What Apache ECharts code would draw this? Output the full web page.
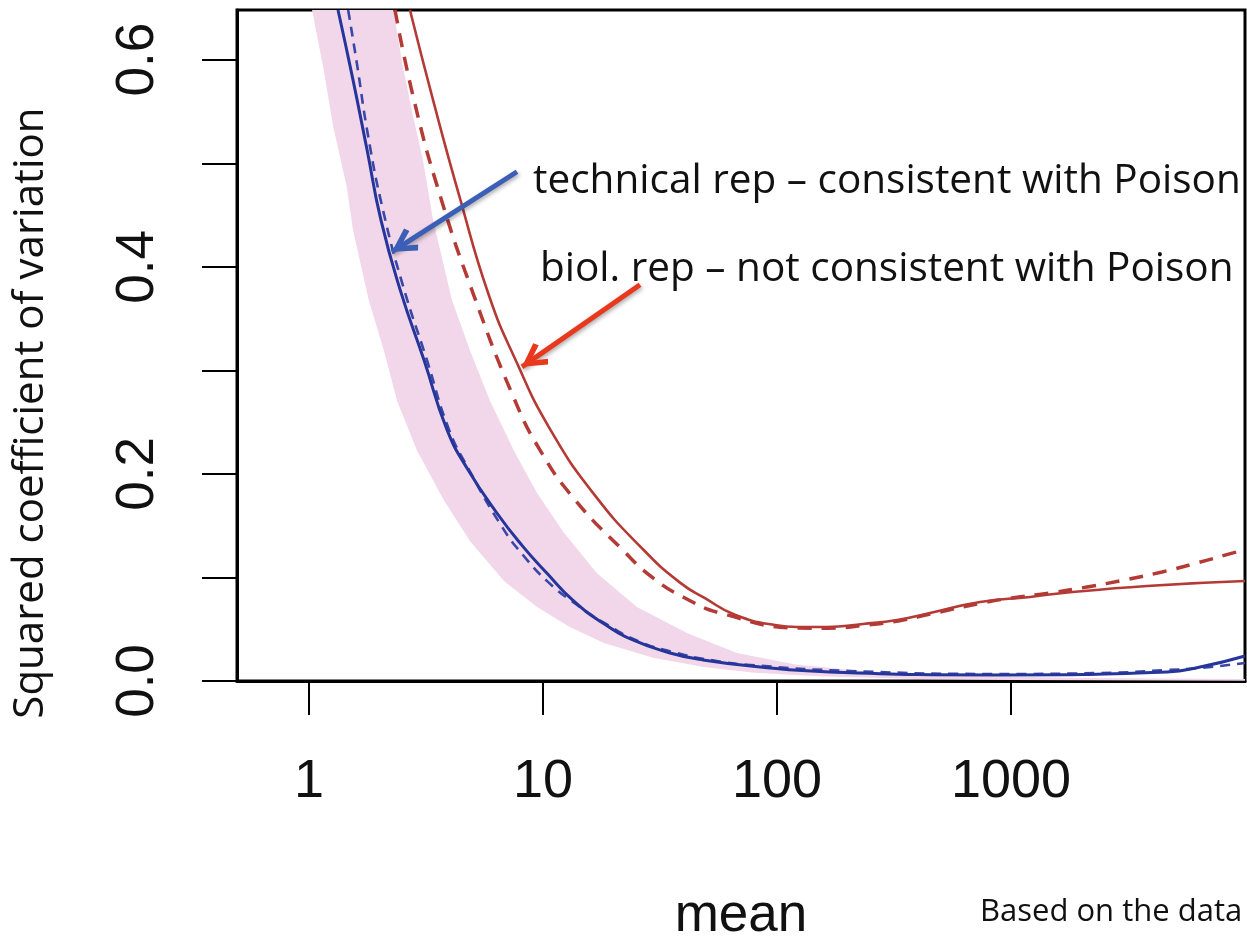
<!DOCTYPE html>
<html>
<head>
<meta charset="utf-8">
<title>Squared coefficient of variation vs mean</title>
<script src="https://cdn.jsdelivr.net/npm/echarts@6/dist/echarts.min.js"></script>
<style>
  html, body { margin: 0; padding: 0; background: #ffffff; }
  #chart { width: 1247px; height: 943px; }
</style>
</head>
<body>
<div id="chart"></div>
<script>
// Axis ticks and labels
const meanTicks = [1, 10, 100, 1000];
const cvTicks = [0, 0.1, 0.2, 0.3, 0.4, 0.5, 0.6];
const cvLabels = [0, 0.2, 0.4, 0.6];

// Technical replicates: fitted CV^2 (solid) and second estimate (dashed), [mean, CV^2]
const techFit = [
  [1.33, 0.648], [1.54, 0.581], [1.77, 0.513], [2.03, 0.445], [2.45, 0.378],
  [3.10, 0.310], [3.89, 0.2425], [4.78, 0.204], [6.36, 0.162], [8.13, 0.131],
  [10.4, 0.104], [13.4, 0.078], [18.0, 0.056], [24.2, 0.0396], [34.9, 0.0271],
  [48.3, 0.0203], [84.6, 0.0135], [168, 0.0087], [897, 0.0058], [4640, 0.0087],
  [6430, 0.0135], [10000, 0.0242]
];
const techDashed = [
  [1.47, 0.648], [1.60, 0.597], [1.79, 0.526], [2.07, 0.455], [2.50, 0.3845],
  [3.19, 0.310], [3.97, 0.2425], [4.83, 0.204], [6.68, 0.1488], [8.21, 0.1217],
  [10.5, 0.0957], [14.0, 0.0734], [18.9, 0.0541], [26.0, 0.0377], [35.9, 0.028],
  [51.7, 0.0203], [76.7, 0.0155], [205, 0.0097], [897, 0.0068], [2399, 0.0077],
  [4640, 0.0106], [6430, 0.0126], [10000, 0.0174]
];

// Biological replicates: fitted CV^2 (solid) and second estimate (dashed)
const biolFit = [
  [2.70, 0.648], [3.39, 0.561], [4.38, 0.469], [5.88, 0.372], [7.67, 0.309],
  [10.7, 0.2435], [16.7, 0.179], [26.8, 0.127], [38.5, 0.095], [49.2, 0.080],
  [66.1, 0.064], [98, 0.054], [122, 0.0522], [164, 0.0522], [233, 0.0551],
  [326, 0.0589], [451, 0.0657], [738, 0.0763], [1206, 0.0812], [1667, 0.085],
  [3810, 0.0918], [10000, 0.0966]
];
const biolDashed = [
  [2.33, 0.648], [2.81, 0.561], [3.63, 0.469], [5.07, 0.372], [7.45, 0.275],
  [9.71, 0.223], [13.7, 0.175], [21.8, 0.127], [29.5, 0.0995], [40.4, 0.0802],
  [57.1, 0.0657], [125, 0.0512], [165, 0.051], [240, 0.054], [330, 0.058],
  [460, 0.065], [740, 0.075], [1010, 0.0802], [1468, 0.085], [2113, 0.0908],
  [3070, 0.0976], [4420, 0.1053], [6240, 0.114], [8890, 0.1237], [10000, 0.1266]
];

// Shot-noise (Poisson) range: lower and upper edges of the shaded band
const poissonLow = [
  [1.03, 0.648], [1.15, 0.593], [1.27, 0.535], [1.45, 0.477], [1.54, 0.436],
  [1.8, 0.368], [2.09, 0.319], [2.38, 0.2705], [2.9, 0.222], [3.78, 0.174],
  [4.88, 0.135], [6.81, 0.0966], [9.43, 0.0715], [13, 0.0522], [18.2, 0.0367],
  [29.8, 0.0222], [48.7, 0.0135], [80, 0.008], [150, 0.0045], [400, 0.002],
  [1000, 0.001], [10000, 0.0003]
];
const poissonHigh = [
  [2.29, 0.648], [2.52, 0.593], [2.78, 0.546], [3.07, 0.503], [3.39, 0.445],
  [4.08, 0.368], [4.88, 0.319], [5.94, 0.2705], [7.52, 0.222], [9.43, 0.1816],
  [12.3, 0.143], [17, 0.104], [25.2, 0.0715], [41.2, 0.0464], [67.5, 0.0271],
  [120, 0.016], [250, 0.009], [600, 0.005], [2000, 0.003], [10000, 0.002]
];

// Annotation arrows: [tail, head] in [mean, CV^2]
const techArrow = [[7.74, 0.4918], [2.26, 0.4145]];
const biolArrow = [[25.97, 0.3826], [8.13, 0.3034]];

const AXIS_FONT = '"Liberation Sans", Arial, Helvetica, sans-serif';
const NOTE_FONT = '"Open Sans", "Noto Sans", sans-serif';
// Open "V" arrow head pointing up; the empty first sub-path pads the box so the
// tip sits at the symbol centre, i.e. exactly on the line end point.
const OPEN_HEAD = 'path://M12,-12 L12.01,-12 L12,-11.99 Z M12,12 L24,33 L19.5,36 L12,22 L4.5,36 L0,33 Z';

const chart = echarts.init(document.getElementById('chart'), null, { renderer: 'canvas' });

function arrowLine(points, color) {
  return {
    silent: true,
    symbol: ['none', OPEN_HEAD],
    symbolSize: [26, 52],
    label: { show: false },
    emphasis: { disabled: true },
    lineStyle: {
      color: color, width: 5, type: 'solid',
      shadowColor: 'rgba(0,0,0,0.35)', shadowBlur: 4, shadowOffsetX: 1, shadowOffsetY: 2
    },
    data: [[{ coord: points[0] }, { coord: points[1] }]]
  };
}

function curve(name, data, z, lineStyle, extra) {
  return Object.assign({
    name: name, type: 'line', data: data, z: z,
    showSymbol: false, smooth: 0.5, silent: true,
    lineStyle: lineStyle
  }, extra || {});
}

const option = {
  animation: false,
  backgroundColor: '#ffffff',
  grid: {
    left: 237, right: 2, top: 10, bottom: 262,
    containLabel: false, outerBoundsMode: 'none',
    show: true, borderColor: '#000', borderWidth: 3, backgroundColor: 'transparent'
  },
  xAxis: {
    type: 'log', logBase: 10, min: 0.4923, max: 10000,
    name: 'mean', nameLocation: 'middle', nameGap: 209,
    nameTextStyle: { fontFamily: AXIS_FONT, fontSize: 53, color: '#111' },
    axisLine: { show: true, lineStyle: { color: '#000', width: 3 } },
    axisTick: { show: true, inside: false, length: 34, customValues: meanTicks,
      lineStyle: { color: '#000', width: 2 } },
    axisLabel: { show: true, customValues: meanTicks, margin: 74,
      fontFamily: AXIS_FONT, fontSize: 54, color: '#111',
      formatter: v => String(Math.round(v)) },
    splitLine: { show: false }, minorTick: { show: false }, minorSplitLine: { show: false }
  },
  yAxis: {
    type: 'value', min: 0, max: 0.648,
    axisLine: { show: true, lineStyle: { color: '#000', width: 3 } },
    axisTick: { show: true, inside: false, length: 35, customValues: cvTicks,
      lineStyle: { color: '#000', width: 2 } },
    axisLabel: { show: true, customValues: cvLabels, rotate: 90, margin: 72,
      fontFamily: AXIS_FONT, fontSize: 53, color: '#111',
      formatter: v => v.toFixed(1) },
    splitLine: { show: false }
  },
  graphic: [
    { type: 'text', x: 31, y: 413, rotation: Math.PI / 2, silent: true,
      style: { text: 'Squared coefficient of variation', fill: '#111',
        font: '42px ' + NOTE_FONT, textAlign: 'center', textVerticalAlign: 'middle' } },
    { type: 'text', x: 533, y: 181, silent: true,
      style: { text: 'technical rep \u2013 consistent with Poison', fill: '#111',
        font: '40.5px ' + NOTE_FONT, textAlign: 'left', textVerticalAlign: 'middle' } },
    { type: 'text', x: 540, y: 269, silent: true,
      style: { text: 'biol. rep \u2013 not consistent with Poison', fill: '#111',
        font: '40.5px ' + NOTE_FONT, textAlign: 'left', textVerticalAlign: 'middle' } },
    { type: 'text', x: 980, y: 912, silent: true,
      style: { text: 'Based on the data', fill: '#111',
        font: '31px ' + NOTE_FONT, textAlign: 'left', textVerticalAlign: 'middle' } }
  ],
  series: [
    {
      name: 'Poisson range', type: 'custom', coordinateSystem: 'cartesian2d',
      silent: true, clip: true, z: 1,
      data: [[1, 0.1]],
      renderItem: function (params, api) {
        const pts = poissonLow.map(p => api.coord(p))
          .concat(poissonHigh.slice().reverse().map(p => api.coord(p)));
        return { type: 'polygon', shape: { points: pts }, style: { fill: '#f1d7e9' } };
      }
    },
    curve('technical rep (dashed)', techDashed, 3,
      { color: '#3a46a8', width: 2.6, type: [10, 7] }),
    curve('technical rep', techFit, 4,
      { color: '#25359a', width: 3 }, { markLine: arrowLine(techArrow, '#3b5fb6') }),
    curve('biol. rep (dashed)', biolDashed, 3,
      { color: '#b43a35', width: 3.5, type: [14, 10] }),
    curve('biol. rep', biolFit, 4,
      { color: '#b43a35', width: 2.6 }, { markLine: arrowLine(biolArrow, '#e8391f') })
  ]
};

chart.setOption(option);
</script>
</body>
</html>
